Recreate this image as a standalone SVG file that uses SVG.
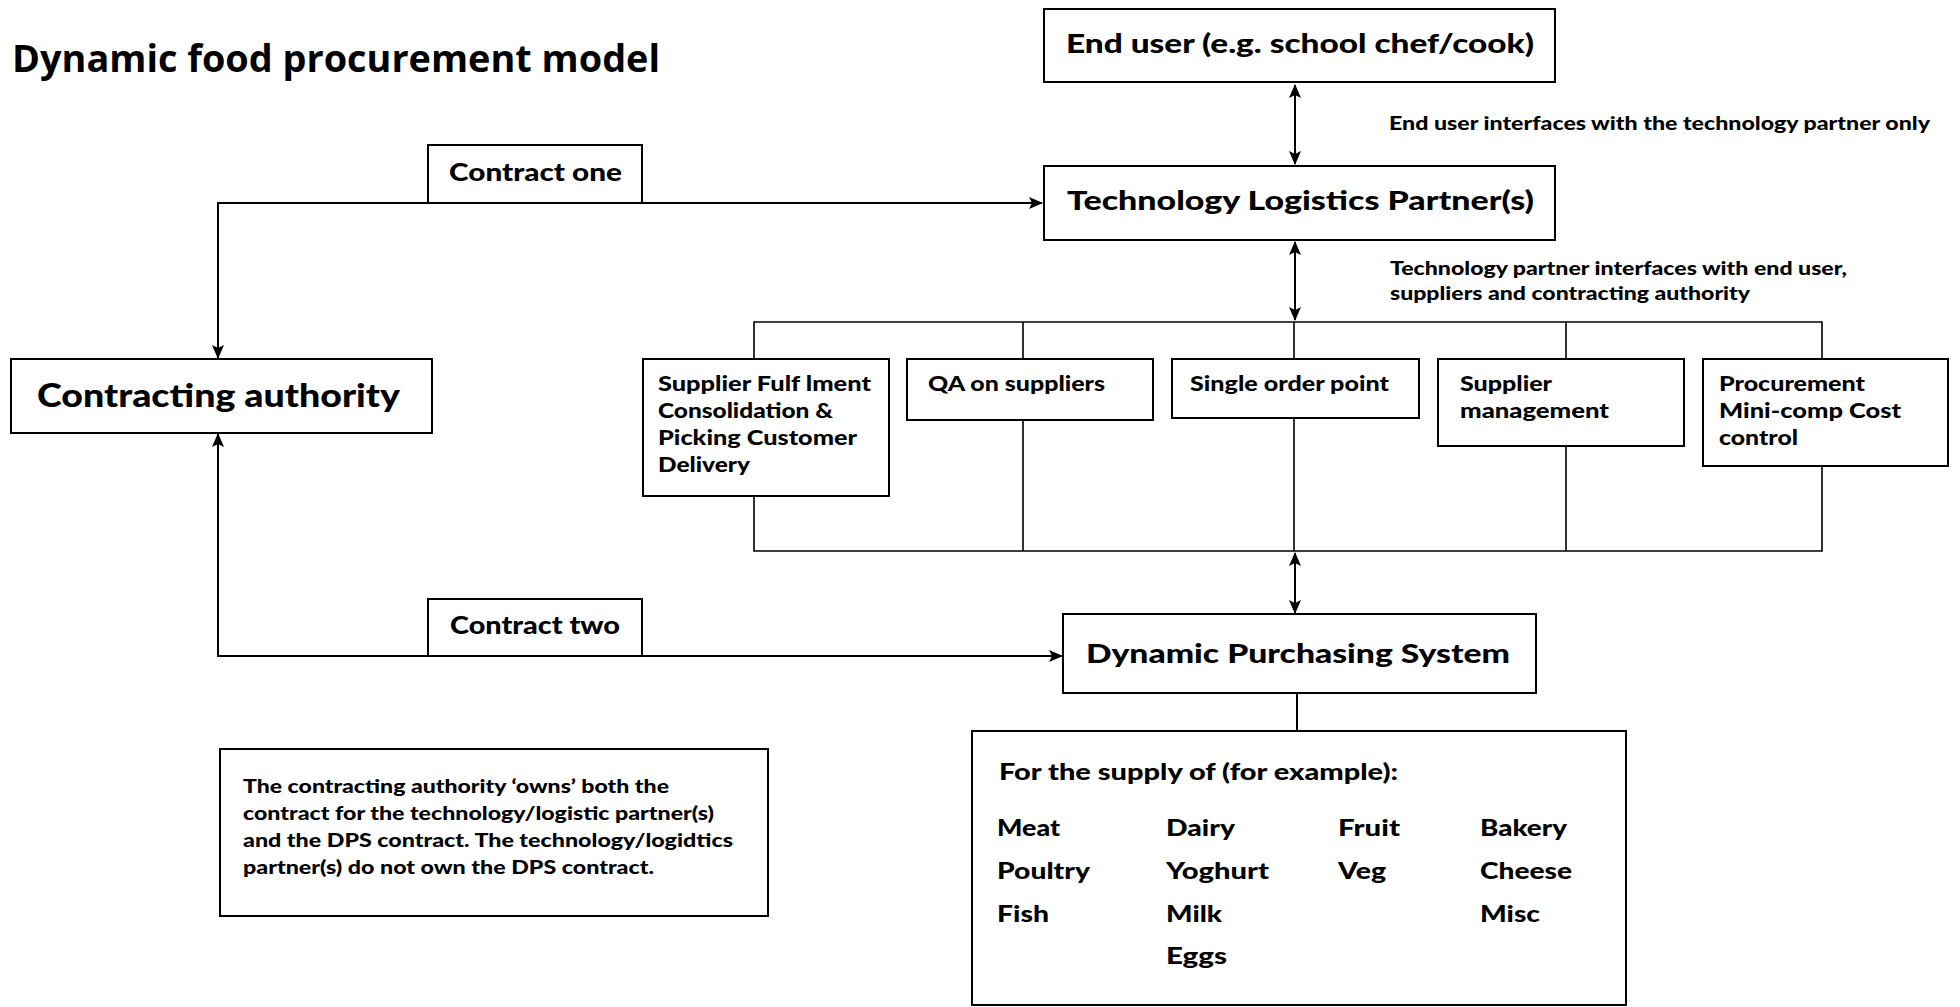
<svg xmlns="http://www.w3.org/2000/svg" width="1960" height="1007" viewBox="0 0 1960 1007">
<style>
.box{fill:#fff;stroke:#000;stroke-width:2}
.ln{fill:none;stroke:#000;stroke-width:2}
.bus{fill:none;stroke:#000;stroke-width:1.6}
text{font-family:Lato,"Open Sans","Liberation Sans",sans-serif;font-weight:900;fill:#000}
.title{font-family:"Open Sans","Noto Sans",sans-serif;font-size:37px;font-weight:bold}
.big{font-size:27px}
.ca{font-size:33px}
.ct{font-size:25px}
.sm{font-size:19px}
.mid{font-size:21px}
.sup{font-size:23px}
</style>
<defs>
<marker id="ah" viewBox="0 0 14 12" refX="13" refY="6" markerWidth="14" markerHeight="12" markerUnits="userSpaceOnUse" orient="auto-start-reverse">
<path d="M0,0 L14,6 L0,12 L3,6 z" fill="#000"/>
</marker>
</defs>
<rect width="1960" height="1007" fill="#fff"/>
<text class="title" x="12" y="72" textLength="648" lengthAdjust="spacingAndGlyphs">Dynamic food procurement model</text>

<g id="connectors">
<path class="ln" d="M1295,85 L1295,164" marker-start="url(#ah)" marker-end="url(#ah)"/>
<path class="ln" d="M1295,242 L1295,320" marker-start="url(#ah)" marker-end="url(#ah)"/>
<path class="bus" d="M754,359 L754,322 L1822,322 L1822,359 M1023,322 L1023,359 M1294,322 L1294,359 M1566,322 L1566,359"/>
<path class="bus" d="M754,496 L754,551 L1822,551 L1822,466 M1023,420 L1023,551 M1294,418 L1294,551 M1566,446 L1566,551"/>
<path class="ln" d="M1295,553 L1295,613" marker-start="url(#ah)" marker-end="url(#ah)"/>
<path class="ln" d="M218,358 L218,203 L1042,203" marker-start="url(#ah)" marker-end="url(#ah)"/>
<path class="ln" d="M218,434 L218,656 L1062,656" marker-start="url(#ah)" marker-end="url(#ah)"/>
<path class="ln" d="M1297,693 L1297,731"/>
</g>

<g id="end-user">
<rect class="box" x="1044" y="9" width="511" height="73"/>
<text class="big" x="1066" y="53" textLength="468" lengthAdjust="spacingAndGlyphs">End user (e.g. school chef/cook)</text>
</g>
<g id="label-end-user">
<text class="sm" x="1389" y="130" textLength="541" lengthAdjust="spacingAndGlyphs">End user interfaces with the technology partner only</text>
</g>
<g id="tech-partner">
<rect class="box" x="1044" y="166" width="511" height="74"/>
<text class="big" x="1067" y="210" textLength="467" lengthAdjust="spacingAndGlyphs">Technology Logistics Partner(s)</text>
</g>
<g id="label-tech">
<text class="sm" x="1390" y="275" textLength="457" lengthAdjust="spacingAndGlyphs">Technology partner interfaces with end user,</text>
<text class="sm" x="1390" y="300" textLength="360" lengthAdjust="spacingAndGlyphs">suppliers and contracting authority</text>
</g>
<g id="contract-one">
<rect class="box" x="428" y="145" width="214" height="58"/>
<text class="ct" x="449" y="181" textLength="173" lengthAdjust="spacingAndGlyphs">Contract one</text>
</g>
<g id="contracting-authority">
<rect class="box" x="11" y="359" width="421" height="74"/>
<text class="ca" x="37" y="407" textLength="363" lengthAdjust="spacingAndGlyphs">Contracting authority</text>
</g>
<g id="supplier-fulfilment">
<rect class="box" x="643" y="359" width="246" height="137"/>
<text class="mid" x="658" y="391" textLength="213" lengthAdjust="spacingAndGlyphs">Supplier Fulf lment</text>
<text class="mid" x="658" y="418" textLength="175" lengthAdjust="spacingAndGlyphs">Consolidation &amp;</text>
<text class="mid" x="658" y="445" textLength="199" lengthAdjust="spacingAndGlyphs">Picking Customer</text>
<text class="mid" x="658" y="472" textLength="92" lengthAdjust="spacingAndGlyphs">Delivery</text>
</g>
<g id="qa-suppliers">
<rect class="box" x="907" y="359" width="246" height="61"/>
<text class="mid" x="928" y="391" textLength="177" lengthAdjust="spacingAndGlyphs">QA on suppliers</text>
</g>
<g id="single-order">
<rect class="box" x="1172" y="359" width="247" height="59"/>
<text class="mid" x="1190" y="391" textLength="199" lengthAdjust="spacingAndGlyphs">Single order point</text>
</g>
<g id="supplier-management">
<rect class="box" x="1438" y="359" width="246" height="87"/>
<text class="mid" x="1460" y="391" textLength="92" lengthAdjust="spacingAndGlyphs">Supplier</text>
<text class="mid" x="1460" y="418" textLength="149" lengthAdjust="spacingAndGlyphs">management</text>
</g>
<g id="procurement">
<rect class="box" x="1703" y="359" width="245" height="107"/>
<text class="mid" x="1719" y="391" textLength="146" lengthAdjust="spacingAndGlyphs">Procurement</text>
<text class="mid" x="1719" y="418" textLength="182" lengthAdjust="spacingAndGlyphs">Mini-comp Cost</text>
<text class="mid" x="1719" y="445" textLength="79" lengthAdjust="spacingAndGlyphs">control</text>
</g>
<g id="contract-two">
<rect class="box" x="428" y="599" width="214" height="57"/>
<text class="ct" x="450" y="634" textLength="170" lengthAdjust="spacingAndGlyphs">Contract two</text>
</g>
<g id="dps">
<rect class="box" x="1063" y="614" width="473" height="79"/>
<text class="big" x="1086" y="663" textLength="424" lengthAdjust="spacingAndGlyphs">Dynamic Purchasing System</text>
</g>
<g id="note">
<rect class="box" x="220" y="749" width="548" height="167" stroke-width="1.5"/>
<text class="sm" x="243" y="793" textLength="426" lengthAdjust="spacingAndGlyphs">The contracting authority ‘owns’ both the</text>
<text class="sm" x="243" y="820" textLength="471" lengthAdjust="spacingAndGlyphs">contract for the technology/logistic partner(s)</text>
<text class="sm" x="243" y="847" textLength="490" lengthAdjust="spacingAndGlyphs">and the DPS contract. The technology/logidtics</text>
<text class="sm" x="243" y="874" textLength="411" lengthAdjust="spacingAndGlyphs">partner(s) do not own the DPS contract.</text>
</g>
<g id="supply">
<rect class="box" x="972" y="731" width="654" height="274"/>
<text class="sup" x="999" y="780" textLength="399" lengthAdjust="spacingAndGlyphs">For the supply of (for example):</text>
<text class="sup" x="997" y="836" textLength="63" lengthAdjust="spacingAndGlyphs">Meat</text>
<text class="sup" x="997" y="879" textLength="93" lengthAdjust="spacingAndGlyphs">Poultry</text>
<text class="sup" x="997" y="922" textLength="52" lengthAdjust="spacingAndGlyphs">Fish</text>
<text class="sup" x="1166" y="836" textLength="69" lengthAdjust="spacingAndGlyphs">Dairy</text>
<text class="sup" x="1166" y="879" textLength="103" lengthAdjust="spacingAndGlyphs">Yoghurt</text>
<text class="sup" x="1166" y="922" textLength="56" lengthAdjust="spacingAndGlyphs">Milk</text>
<text class="sup" x="1166" y="964" textLength="61" lengthAdjust="spacingAndGlyphs">Eggs</text>
<text class="sup" x="1338" y="836" textLength="62" lengthAdjust="spacingAndGlyphs">Fruit</text>
<text class="sup" x="1338" y="879" textLength="48" lengthAdjust="spacingAndGlyphs">Veg</text>
<text class="sup" x="1480" y="836" textLength="87" lengthAdjust="spacingAndGlyphs">Bakery</text>
<text class="sup" x="1480" y="879" textLength="92" lengthAdjust="spacingAndGlyphs">Cheese</text>
<text class="sup" x="1480" y="922" textLength="60" lengthAdjust="spacingAndGlyphs">Misc</text>
</g>
</svg>
